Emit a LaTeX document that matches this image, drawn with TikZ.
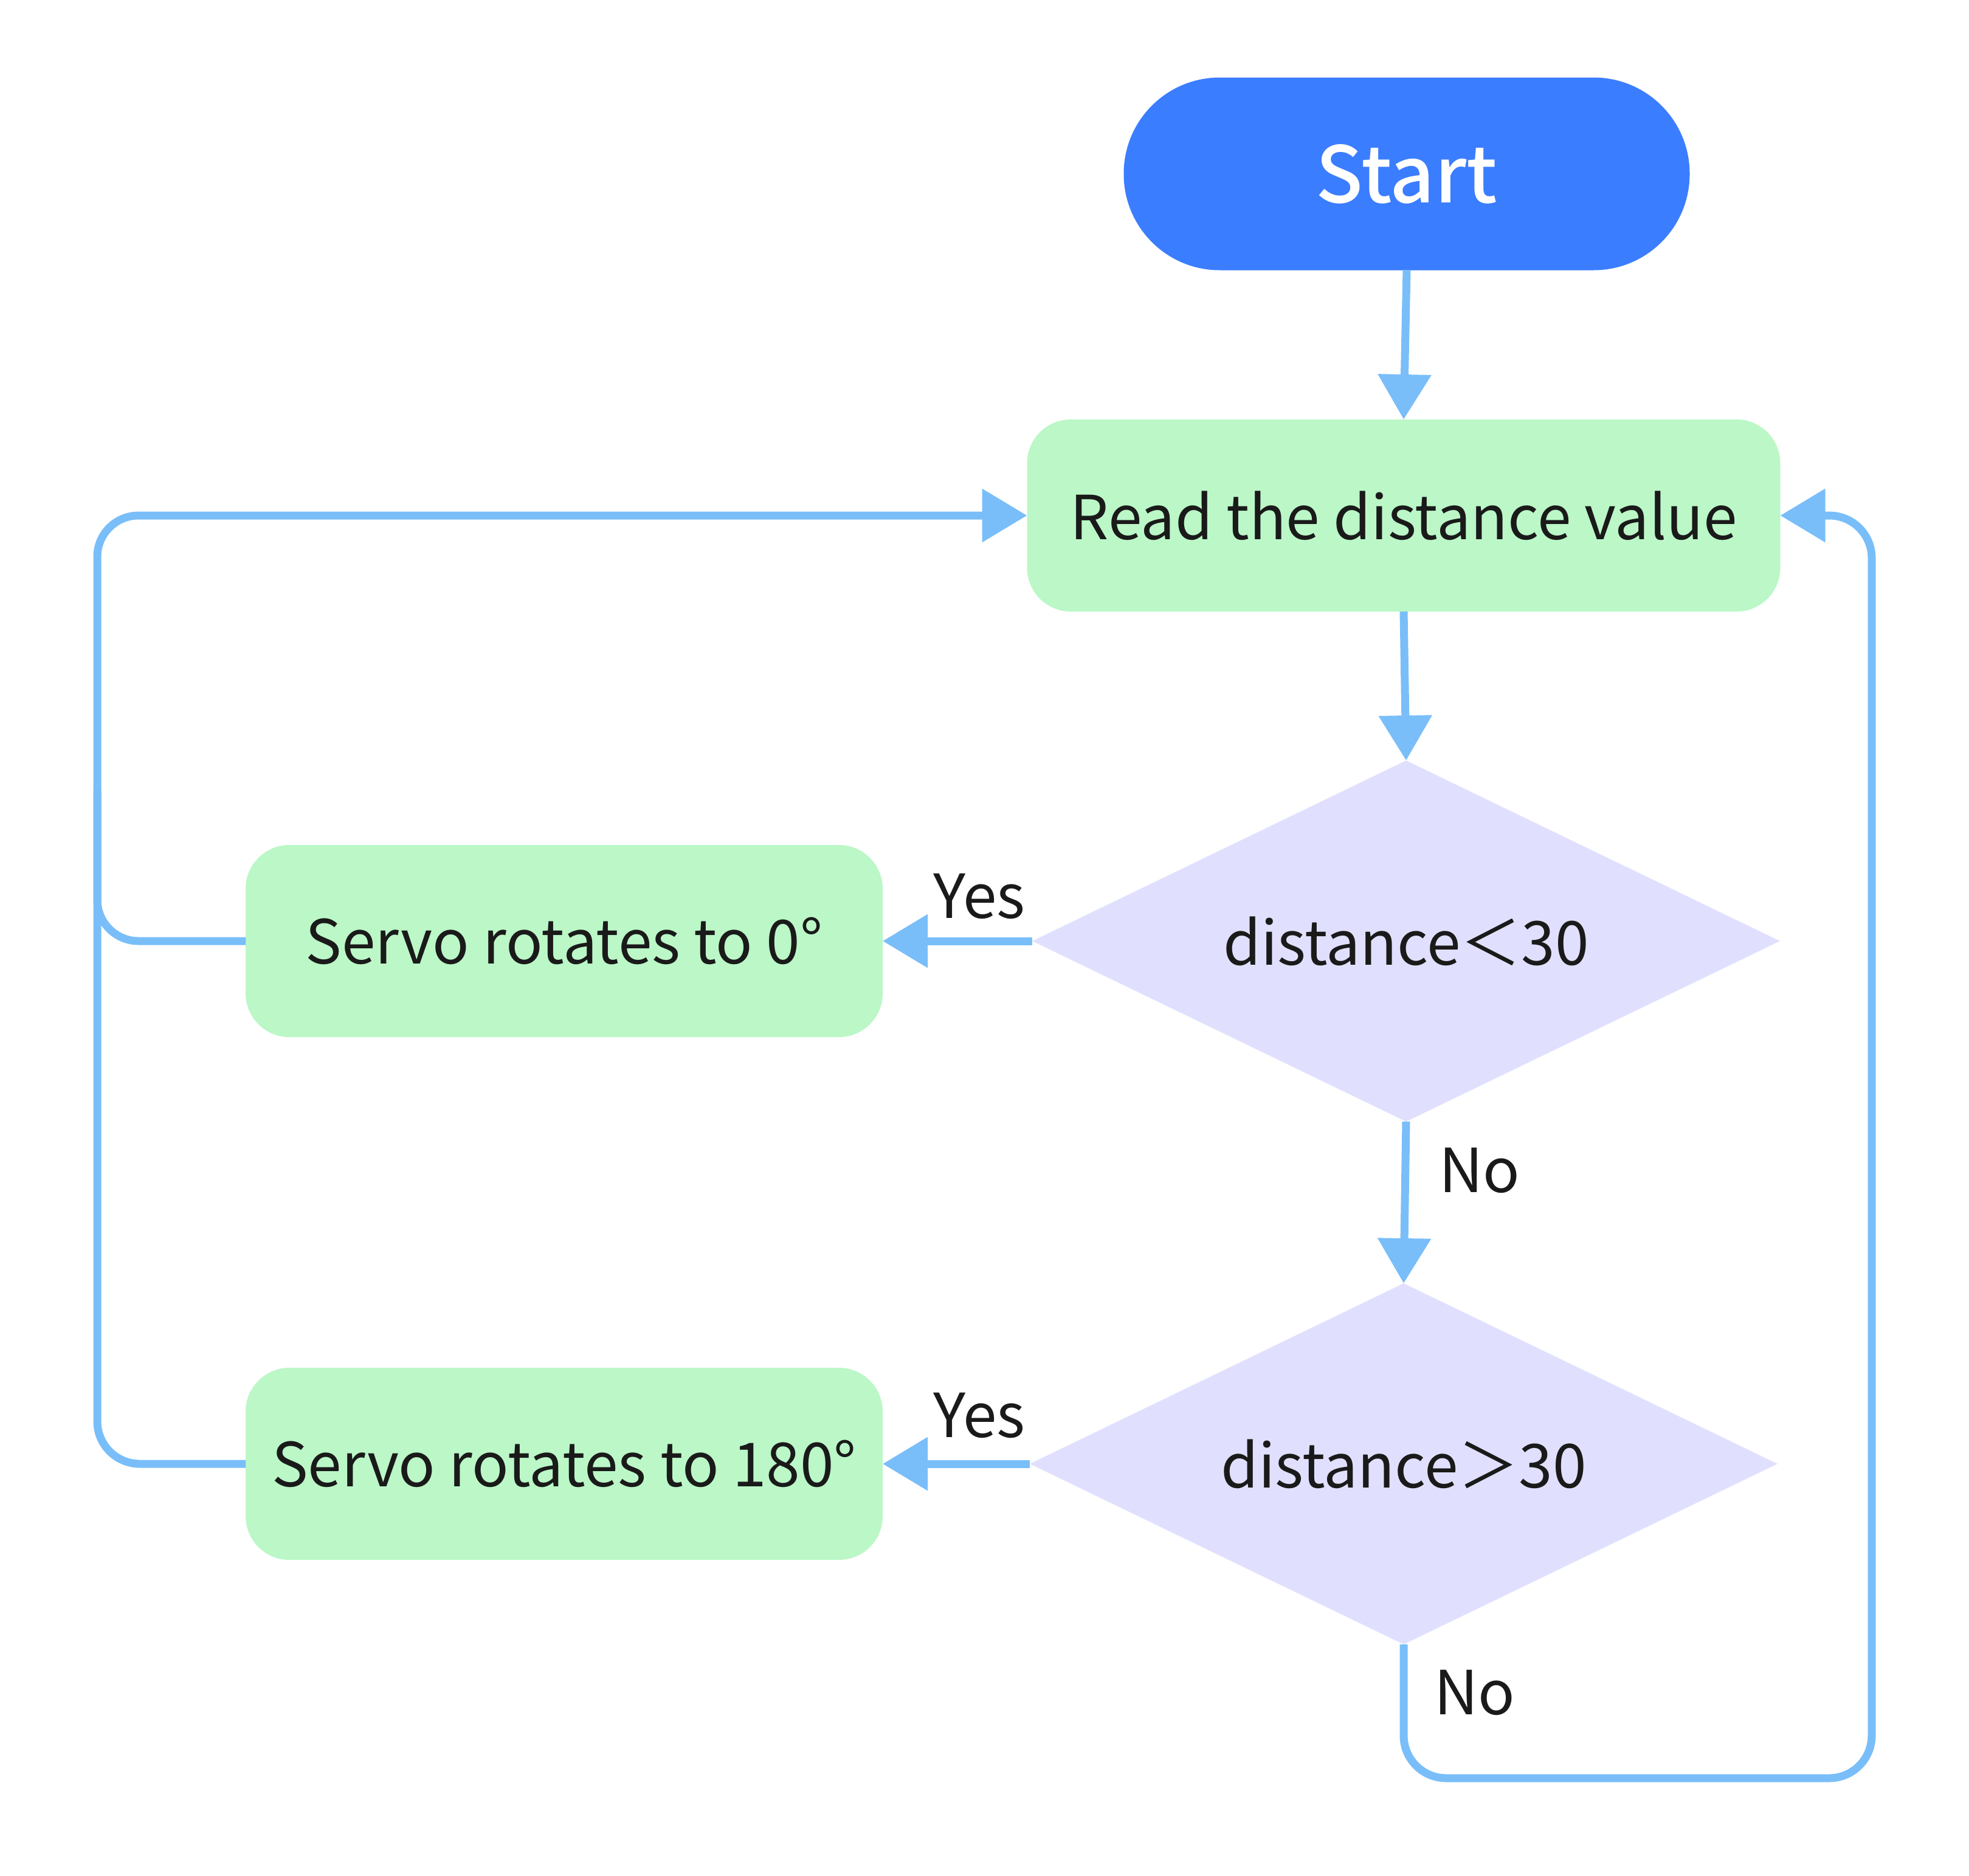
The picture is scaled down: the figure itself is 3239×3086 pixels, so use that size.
\documentclass[tikz,border=0pt]{standalone}
\usepackage{fontspec}
\setmainfont{Noto Sans CJK SC}
\newfontfamily\startfont{Noto Sans CJK SC}[UprightFont=* Medium]
\usetikzlibrary{shapes.geometric,arrows.meta}
\definecolor{startblue}{RGB}{59,125,255}
\definecolor{boxgreen}{RGB}{187,247,199}
\definecolor{lavender}{RGB}{224,224,254}
\definecolor{arrowblue}{RGB}{121,190,249}
\definecolor{txt}{RGB}{26,26,26}
\begin{document}
\begin{tikzpicture}[x=1pt,y=-1pt,
  every node/.style={outer sep=0pt, inner sep=0pt},
  bodyfont/.style={font=\fontsize{100}{120}\selectfont},
  startbox/.style={fill=startblue, rounded corners=158pt, minimum width=931pt, minimum height=317pt,
     text=white, font=\startfont\fontsize{128}{150}\selectfont},
  procbox/.style={fill=boxgreen, rounded corners=72pt, minimum height=316pt, text=txt, bodyfont},
  decbox/.style={diamond, aspect=2.07, fill=lavender, minimum width=1230pt, minimum height=594pt, text=txt, bodyfont},
  lbl/.style={text=txt, bodyfont},
  conn/.style={draw=arrowblue, line width=13pt, -{Triangle[length=74pt,width=85pt]}},
  plain/.style={draw=arrowblue, line width=13pt}
]
\useasboundingbox (0,0) rectangle (3239,3086);
\node[startbox] (start) at (2314,286) {Start};
\node[procbox, minimum width=1239pt] (read) at (2309,848) {Read the distance value};
\node[decbox] (d1) at (2313,1548) {distance＜30};
\node[decbox] (d2) at (2309,2408) {distance＞30};
\node[procbox, minimum width=1048pt] (s0) at (928,1548) {Servo rotates to 0°};
\node[procbox, minimum width=1048pt] (s180) at (928,2408) {Servo rotates to 180°};

\coordinate (rb) at (3079,2925);
\coordinate (lt) at (160,848);
\coordinate (lm) at (160,1300);

\draw[conn] (start.south) -- (read.north);
\draw[conn] (read.south) -- (d1.north);
\draw[conn] (d1.west) -- (s0.east);
\draw[conn] (d1.south) -- (d2.north);
\draw[conn] (d2.west) -- (s180.east);
\draw[conn, rounded corners=70pt] (d2.south) |- (rb) |- (read.east);
\draw[conn, rounded corners=68pt] (s0.west) -| (lt) -- (read.west);
\draw[plain, rounded corners=70pt] (s180.west) -| (lm);

\node[lbl, anchor=base] (yes1) at (1611,1510) {Yes};
\node[lbl, anchor=base] (yes2) at (1611,2364) {Yes};
\node[lbl, anchor=base west] (no1) at (2367,1961) {No};
\node[lbl, anchor=base west] (no2) at (2359,2820) {No};
\end{tikzpicture}
\end{document}
